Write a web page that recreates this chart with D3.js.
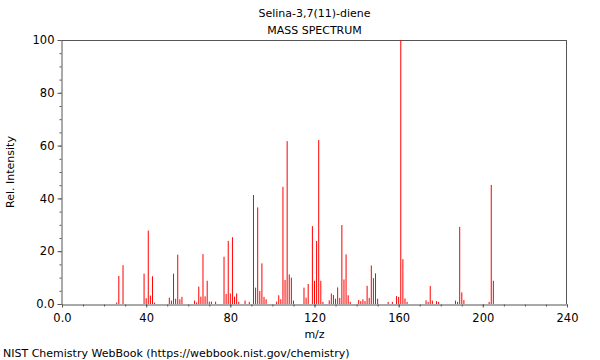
<!DOCTYPE html>
<html>
<head>
<meta charset="utf-8">
<script src="https://cdn.jsdelivr.net/npm/d3@7"></script>
<style>
  html, body { margin: 0; padding: 0; background: #fff; }
  svg text { font-family: "DejaVu Sans", sans-serif; fill: #000; }
</style>
</head>
<body>
<div id="chart"></div>
<script>
const chartTitle = "Selina-3,7(11)-diene";
const chartSubtitle = "MASS SPECTRUM";
const xLabel = "m/z";
const yLabel = "Rel. Intensity";
const footer = "NIST Chemistry WebBook (https://webbook.nist.gov/chemistry)";

const mzValues = [26,27,29,39,40,41,42,43,44,51,52,53,54,55,56,57,63,64,65,66,67,68,69,70,71,73,
  77,78,79,80,81,82,83,84,87,89,91,92,93,94,95,96,97,102,103,104,105,106,107,108,109,110,
  115,116,117,119,120,121,122,123,124,127,128,129,130,131,132,133,134,135,136,137,
  141,142,143,144,145,146,147,148,149,150,155,157,159,160,161,162,163,164,
  173,174,175,176,178,179,187,188,189,190,191,203,204,205];
const intensities = [0.6,10.6,14.7,11.5,2.2,27.8,3.2,10.5,0.5,2.4,1.3,11.5,2.0,18.7,1.8,2.7,1.3,0.6,6.6,2.8,18.9,2.9,8.8,0.9,0.9,0.9,
  17.9,3.8,23.9,4.0,25.3,2.8,4.0,0.8,1.3,0.8,41.3,6.2,36.6,4.9,15.4,2.7,1.8,0.9,3.3,1.8,44.4,9.1,61.7,11.2,10.0,1.3,
  6.2,2.4,7.6,29.5,8.8,23.9,62.1,8.8,0.8,1.4,4.0,3.4,2.0,6.3,2.3,29.9,9.3,18.8,3.3,0.8,
  1.5,1.1,1.8,1.1,6.9,2.3,14.6,9.8,11.6,2.0,0.8,0.8,3.0,2.7,100,17.0,2.1,0.8,
  1.4,0.8,6.8,1.3,1.1,0.8,1.3,0.8,29.2,4.4,1.5,0.8,45.1,8.8];

const xMajorTicks = [0,40,80,120,160,200,240];
const xMinorTicks = d3.range(0, 241, 10);
const yMajorTicks = [0,20,40,60,80,100];
const yMinorTicks = d3.range(0, 101, 5);

const W = 600, H = 360;
const m = {left: 62, right: 33, top: 40, bottom: 56};

const svg = d3.select("#chart").append("svg").attr("width", W).attr("height", H);

const x = d3.scaleLinear().domain([0, 240]).range([m.left, W - m.right]);
const y = d3.scaleLinear().domain([0, 100]).range([H - m.bottom, m.top]);

const axisColor = "#555";
const fmt = d => d === 0 ? "0.0" : String(d);

// frame top & right
svg.append("line").attr("x1", x(0)).attr("x2", x(240)).attr("y1", y(100) + 0.5).attr("y2", y(100) + 0.5)
  .attr("stroke", axisColor).attr("stroke-width", 1);
svg.append("line").attr("x1", x(240) - 0.5).attr("x2", x(240) - 0.5).attr("y1", y(100)).attr("y2", y(0))
  .attr("stroke", axisColor).attr("stroke-width", 1);

// bars (1px wide, unsnapped so sub-pixel positions antialias like the reference)
const data = mzValues.map((d, i) => ({mz: d, v: intensities[i]}));
svg.append("g").attr("class", "bars").selectAll("rect").data(data).join("rect")
  .attr("x", d => x(d.mz) - 0.5).attr("width", 1)
  .attr("y", d => y(d.v)).attr("height", d => y(0) - y(d.v))
  .attr("fill", "#ff0000");

// y axis minor
const yMinor = svg.append("g").attr("transform", `translate(${m.left - 0.5},0)`)
  .call(d3.axisLeft(y).tickValues(yMinorTicks).tickSize(2).tickFormat(""));
yMinor.select(".domain").remove();
yMinor.selectAll("line").attr("stroke", axisColor);

const yAx = svg.append("g").attr("transform", `translate(${m.left - 0.5},0)`)
  .call(d3.axisLeft(y).tickValues(yMajorTicks).tickSize(4).tickSizeOuter(0).tickPadding(3).tickFormat(fmt));
yAx.select(".domain").attr("stroke", axisColor);
yAx.selectAll("line").attr("stroke", axisColor);
yAx.selectAll("text").style("font-size", "11.5px").style("font-family", "DejaVu Sans, sans-serif").attr("fill", "#000");

// x axis
const xMinor = svg.append("g").attr("transform", `translate(0,${H - m.bottom + 0.5})`)
  .call(d3.axisBottom(x).tickValues(xMinorTicks).tickSize(2).tickFormat(""));
xMinor.select(".domain").remove();
xMinor.selectAll("line").attr("stroke", axisColor);

const xAx = svg.append("g").attr("transform", `translate(0,${H - m.bottom + 0.5})`)
  .call(d3.axisBottom(x).tickValues(xMajorTicks).tickSize(3).tickSizeOuter(0).tickPadding(6).tickFormat(fmt));
xAx.select(".domain").attr("stroke", axisColor);
xAx.selectAll("line").attr("stroke", axisColor);
xAx.selectAll("text").style("font-size", "11.5px").style("font-family", "DejaVu Sans, sans-serif").attr("fill", "#000");

// titles
const cx = (x(0) + x(240)) / 2;
svg.append("text").attr("x", cx).attr("y", 17).attr("text-anchor", "middle").style("font-size", "11px").text(chartTitle);
svg.append("text").attr("x", cx).attr("y", 34).attr("text-anchor", "middle").style("font-size", "11px").text(chartSubtitle);
svg.append("text").attr("x", cx).attr("y", 338).attr("text-anchor", "middle").style("font-size", "11px").text(xLabel);
svg.append("text").attr("transform", `translate(14,${(y(0) + y(100)) / 2}) rotate(-90)`)
  .attr("text-anchor", "middle").style("font-size", "11px").text(yLabel);
svg.append("text").attr("x", 3).attr("y", 357).style("font-size", "11px").text(footer);
</script>
</body>
</html>
